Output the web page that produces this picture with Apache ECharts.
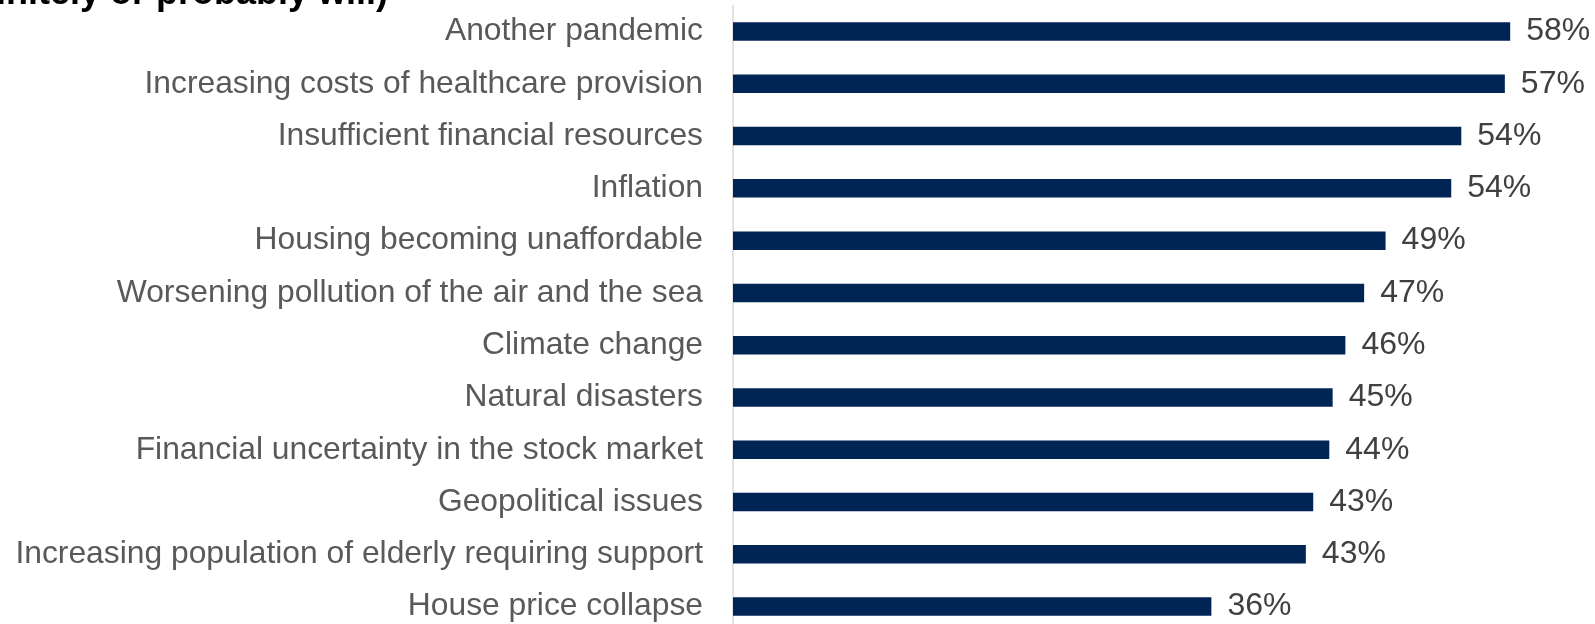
<!DOCTYPE html>
<html>
<head>
<meta charset="utf-8">
<script src="https://cdn.jsdelivr.net/npm/echarts@6/dist/echarts.min.js"></script>
<style>
html,body{margin:0;padding:0;background:#fff;}
#chart{width:1595px;height:624px;}
</style>
</head>
<body>
<div id="chart"></div>
<script>
var categories = [
  'Another pandemic',
  'Increasing costs of healthcare provision',
  'Insufficient financial resources',
  'Inflation',
  'Housing becoming unaffordable',
  'Worsening pollution of the air and the sea',
  'Climate change',
  'Natural disasters',
  'Financial uncertainty in the stock market',
  'Geopolitical issues',
  'Increasing population of elderly requiring support',
  'House price collapse'
];
var values = [58.0, 57.6, 54.35, 53.6, 48.7, 47.1, 45.7, 44.75, 44.5, 43.3, 42.75, 35.7];
var valueLabels = ['58%', '57%', '54%', '54%', '49%', '47%', '46%', '45%', '44%', '43%', '43%', '36%'];
var titleText = '(definitely or probably will)';

var chart = echarts.init(document.getElementById('chart'));
chart.setOption({
  animation: false,
  backgroundColor: '#ffffff',
  graphic: [{
    type: 'text',
    right: 1595 - 388,
    top: -23.6,
    style: {
      text: titleText,
      font: 'bold 36px "Liberation Sans", Arial, sans-serif',
      fill: '#000000'
    }
  }],
  grid: { left: 733, width: 804, top: 5.4, height: 627.3, containLabel: false, outerBoundsMode: 'none' },
  xAxis: {
    type: 'value', min: 0, max: 60,
    show: false
  },
  yAxis: {
    type: 'category',
    inverse: true,
    data: categories,
    axisLine: { show: true, lineStyle: { color: '#d9d9d9', width: 1.5 } },
    axisTick: { show: false },
    axisLabel: {
      margin: 30,
      color: '#595959',
      fontSize: 31.8,
      padding: [5, 0, 0, 0],
      fontFamily: '"Liberation Sans", Arial, sans-serif'
    }
  },
  series: [{
    type: 'bar',
    data: values,
    barWidth: 18.5,
    itemStyle: { color: '#002554' },
    label: {
      show: true,
      position: 'right',
      distance: 16,
      color: '#404040',
      fontSize: 32,
      padding: [5, 0, 0, 0],
      fontFamily: '"Liberation Sans", Arial, sans-serif',
      formatter: function (p) { return valueLabels[p.dataIndex]; }
    }
  }]
});
</script>
</body>
</html>
